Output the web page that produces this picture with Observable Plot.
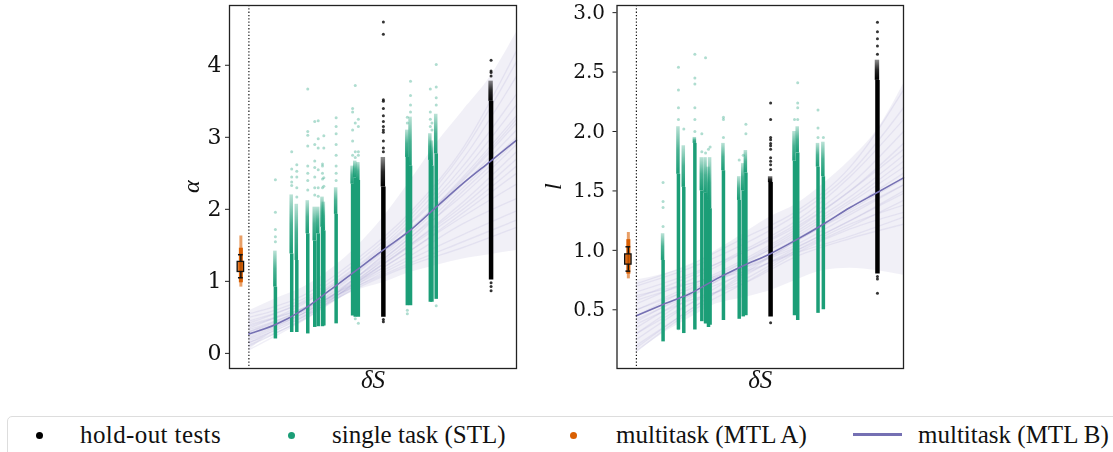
<!DOCTYPE html>
<html><head><meta charset="utf-8">
<script src="https://cdn.jsdelivr.net/npm/d3@7"></script>
<script src="https://cdn.jsdelivr.net/npm/@observablehq/plot@0.6"></script>
<style>
html,body{margin:0;padding:0;background:#fff;overflow:hidden}
#root{position:relative;width:1113px;height:452px;overflow:hidden}
#root svg{position:absolute;top:0;background:transparent;overflow:visible;filter:blur(.4px)}
#legend{position:absolute;left:7px;top:416px;width:1120px;height:50px;border:1.5px solid #ddd;border-radius:5px;box-sizing:border-box}
.lt{position:absolute;top:424px;font:25px/22px "Liberation Serif",serif;color:#111;white-space:nowrap}
.ld{position:absolute;width:7px;height:7px;border-radius:50%;top:431.5px}
.ll{position:absolute;left:853px;width:49px;height:3px;top:433px;background:#7570b3}
</style></head><body><div id="root"><div id="legend"></div></div>
<script>
// Shared x samples for the curves, in fractions of the delta-S range
const curveX = [0, .1, .2, .3, .4, .5, .6, .7, .8, .9, 1];
const sampleX = [0, .2, .4, .6, .8, 1];
const legendLabels = ["hold-out tests", "single task (STL)", "multitask (MTL A)", "multitask (MTL B)"];

// ---- alpha panel
const alphaMean  = [.27, .40, .60, .87, 1.15, 1.43, 1.70, 2.03, 2.36, 2.66, 2.96];
const alphaUpper = [.59, .76, .91, 1.15, 1.47, 1.88, 2.38, 2.91, 3.37, 3.83, 4.46];
const alphaLower = [.04, .32, .48, .69, .87, .98, 1.12, 1.22, 1.31, 1.37, 1.43];
const alphaSamples = [
  [.55,.8,1.3,1.95,2.85,4.2],[.5,.75,1.25,1.9,2.8,4.05],[.42,.72,1.2,1.85,2.7,3.85],[.35,.68,1.18,1.8,2.6,3.6],
  [.3,.62,1.12,1.78,2.52,3.45],[.45,.7,1.15,1.7,2.45,3.3],[.28,.58,1.1,1.72,2.42,3.25],[.22,.55,1.05,1.7,2.4,3.2],
  [.18,.5,1.05,1.65,2.35,3.1],[.33,.6,1.05,1.6,2.3,3.0],[.25,.55,1.02,1.55,2.25,2.95],[.15,.47,1,1.6,2.2,2.9],
  [.3,.58,1,1.5,2.1,2.8],[.1,.48,.98,1.5,2.05,2.7],[.2,.52,.98,1.48,2,2.6],[.38,.62,.98,1.42,1.95,2.5],
  [.12,.46,.95,1.42,1.9,2.35],[.27,.55,.95,1.35,1.8,2.15],[.05,.45,.92,1.3,1.65,1.98],[.4,.62,.93,1.25,1.55,1.85],
  [.15,.5,.9,1.22,1.47,1.75]
];
const alphaStlX     = [.099,.16,.179,.22,.246,.259,.275,.280,.326,.3875,.3975,.409,.592,.604,.678,.684,.70];
const alphaStlLow   = [.20,.29,.29,.27,.36,.37,.37,.38,.41,.52,.50,.50,.66,.66,.71,.71,.75];
const alphaStlSolid = [.92,1.38,1.29,1.66,1.56,1.66,1.75,1.7,1.93,2.35,2.44,2.4,2.72,2.6,2.68,2.6,2.77];
const alphaStlMid   = [1.42,2.2,2.07,2.12,2.03,2.03,2.17,2.1,2.3,2.6,2.67,2.65,3.1,3.28,3.05,2.95,3.32];
const alphaStlSparse = [
  [1.55,1.62,1.72,1.96,2.41],[2.33,2.38,2.45,2.56,2.8],[2.17,2.3,2.45,2.53,2.62],[2.27,2.4,2.5,2.6,2.88,3.03,3.08,3.67],
  [2.2,2.3,2.45,2.58,2.67,2.9,3.22],[2.18,2.3,2.55,2.85,2.98,3.23],[2.3,2.42,2.5,2.6,2.63],[2.32,2.44,2.85,3.02],
  [2.4,2.5,2.6,2.75,2.9,3.05,3.15,3.27],[2.75,2.95,3.1,3.35,3.4],[2.72,2.8,3.2,3.72,.48],[2.75,2.8,3.15,3.25,.42],
  [3.2,3.28,.55,.6],[3.35,3.45,3.58,3.78],[3.15,3.25,3.35,3.67],[3.1,3.2],[3.45,3.55,3.7,4.01,.66]
];
const alphaHoldX     = [.5025,.905];
const alphaHoldLow   = [.50,1.02];
const alphaHoldSolid = [2.31,3.5];
const alphaHoldMid   = [2.72,3.78];
const alphaHoldSparse = [
  [.44,.47,2.8,2.85,2.95,3.07,3.1,3.15,3.22,3.3,3.4,3.5,3.52,4.43,4.6],
  [.87,.93,.98,3.85,3.9,3.92,4.07]
];
const alphaMtl = {center:1.2, box:[1.13,1.27], whisker:[1.05,1.37], core:[.98,1.46], tail:[.92,1.63]};

// ---- l panel
const lMean  = [.45,.545,.635,.76,.87,.97,1.09,1.22,1.36,1.485,1.61];
const lUpper = [.75,.8,.87,1.0,1.14,1.28,1.39,1.56,1.76,2.01,2.40];
const lLower = [.14,.3,.43,.55,.6,.66,.75,.83,.85,.83,.79];
const lSamples = [
  [.72,.88,1.1,1.33,1.7,2.35],[.7,.85,1.05,1.3,1.65,2.2],[.6,.78,1,1.25,1.62,2.1],[.55,.75,.98,1.22,1.55,2],
  [.65,.8,.98,1.2,1.5,1.9],[.5,.7,.92,1.18,1.5,1.85],[.4,.65,.9,1.16,1.45,1.8],[.3,.6,.88,1.14,1.42,1.75],
  [.45,.68,.9,1.12,1.4,1.7],[.35,.62,.85,1.1,1.36,1.65],[.25,.55,.82,1.08,1.34,1.6],[.5,.67,.85,1.05,1.3,1.55],
  [.2,.5,.8,1.08,1.32,1.55],[.58,.72,.85,1.03,1.25,1.5],[.18,.5,.78,1.02,1.25,1.48],[.42,.62,.8,1,1.2,1.42],
  [.3,.55,.75,1,1.22,1.38],[.15,.48,.72,.98,1.18,1.32],[.62,.72,.82,.98,1.12,1.28],[.38,.58,.72,.95,1.1,1.22]
];
const lStlX     = [.1,.1575,.1775,.219,.245,.259,.27,.276,.326,.385,.40,.41,.592,.604,.68,.70];
const lStlLow   = [.23,.33,.30,.33,.40,.38,.35,.37,.41,.42,.44,.45,.45,.41,.47,.50];
const lStlSolid = [.915,1.64,1.53,1.9,1.5,1.48,1.42,1.35,1.67,1.42,1.5,1.65,1.75,1.82,1.7,1.62];
const lStlMid   = [1.14,2.04,1.88,1.95,1.78,1.78,1.7,1.78,1.9,1.62,1.73,1.84,2.0,2.04,1.9,1.91];
const lStlSparse = [
  [1.2,1.36,1.41,1.57],[.34,2.1,2.2,2.35,2.54],[2.02],[2.0,2.1,2.2,2.4,2.45,2.65],[1.83,1.98],[1.82,2.62],[1.85],[1.87],
  [1.95,2.1,2.12],[1.76],[1.8],[1.98,2.06],[2.1],[2.1,2.2,2.24,2.41],[1.95,2.03,2.18],[1.95]
];
const lHoldX     = [.5025,.9025];
const lHoldLow   = [.44,.8];
const lHoldSolid = [1.57,2.43];
const lHoldMid   = [1.62,2.6];
const lHoldSparse = [
  [.39,1.68,1.72,1.75,1.78,1.85,1.88,1.9,1.93,1.95,2.1,2.24],
  [.64,.76,.78,2.65,2.72,2.78,2.84,2.92]
];
const lMtl = {center:.924, box:[.88,.966], whisker:[.825,1.03], core:[.80,1.09], tail:[.76,1.15]};

const GREEN = "#1b9e77", ORANGE = "#d95f02", PURPLE = "#7570b3";
const MTL_X = -.03;
const root = document.getElementById("root");

// Vertical fade used on the top of each dense column
function fadeDefs() {
  const defs = d3.create("svg:defs");
  [["fade-green",GREEN,[1,.8,.3]],["fade-black","#000",[1,.85,.45]]].forEach(([id,c,ops])=>{
    const g = defs.append("linearGradient").attr("id",id).attr("x1",0).attr("y1",1).attr("x2",0).attr("y2",0);
    ops.forEach((op,i)=>g.append("stop").attr("offset",i/2).attr("stop-color",c).attr("stop-opacity",op));
  });
  return defs.node();
}

function panel(o) {
  const stl = o.stlX.map((x,i)=>({x,low:o.stlLow[i],solid:o.stlSolid[i],mid:o.stlMid[i]}));
  const hold = o.holdX.map((x,i)=>({x,low:o.holdLow[i],solid:o.holdSolid[i],mid:o.holdMid[i]}));
  const stlDots = o.stlX.flatMap((x,i)=>o.stlSparse[i].map(y=>({x,y})));
  const holdDots = o.holdX.flatMap((x,i)=>o.holdSparse[i].map(y=>({x,y})));
  const band = curveX.map((x,i)=>({x,lo:o.lower[i],hi:o.upper[i],mean:o.mean[i]}));
  const lines = o.samples.flatMap((s,k)=>s.map((y,i)=>({x:sampleX[i],y,k})));
  const m = o.mtl;
  const svg = Plot.plot({
    width:o.width, height:405, marginLeft:o.marginLeft, marginRight:4, marginTop:5, marginBottom:37,
    x:{domain:[-.0725,1], axis:null},
    y:{domain:o.yDomain, axis:null},
    marks:[
      fadeDefs,
      Plot.axisY({ticks:o.ticks, tickFormat:o.format, tickSize:4, tickPadding:o.pad, fontSize:o.fontSize,
        fontFamily:"DejaVu Serif", label:null, stroke:"#222", fill:"#111"}),
      Plot.areaY(band,{x:"x",y1:"lo",y2:"hi",fill:PURPLE,fillOpacity:.1,curve:"monotone-x"}),
      Plot.line(lines,{x:"x",y:"y",z:"k",stroke:PURPLE,strokeOpacity:.11,strokeWidth:1.4,curve:"monotone-x"}),
      Plot.rect(stl,{x1:"x",x2:"x",y1:"solid",y2:"mid",insetLeft:-1.75,insetRight:-1.75,fill:"url(#fade-green)"}),
      Plot.ruleX(stl,{x:"x",y1:"low",y2:"solid",stroke:GREEN,strokeWidth:3.5}),
      Plot.dot(stlDots,{x:"x",y:"y",r:1.5,fill:GREEN,fillOpacity:.35}),
      Plot.rect(hold,{x1:"x",x2:"x",y1:"solid",y2:"mid",insetLeft:-2.2,insetRight:-2.2,fill:"url(#fade-black)"}),
      Plot.ruleX(hold,{x:"x",y1:"low",y2:"solid",stroke:"#000",strokeWidth:4.5}),
      Plot.dot(holdDots,{x:"x",y:"y",r:1.5,fill:"#111",fillOpacity:.85}),
      Plot.line(band,{x:"x",y:"mean",stroke:PURPLE,strokeWidth:1.6,curve:"monotone-x"}),
      Plot.ruleX([0],{stroke:"#000",strokeWidth:1.1,strokeDasharray:"1.3,2"}),
      Plot.ruleX([MTL_X],{y1:m.tail[0],y2:m.tail[1],stroke:ORANGE,strokeWidth:3,strokeOpacity:.6}),
      Plot.ruleX([MTL_X],{y1:m.core[0],y2:m.core[1],stroke:ORANGE,strokeWidth:4}),
      Plot.ruleX([MTL_X],{y1:m.whisker[0],y2:m.whisker[1],stroke:"#111",strokeWidth:1.4}),
      Plot.ruleY(m.whisker,{x1:MTL_X-.009,x2:MTL_X+.009,stroke:"#111",strokeWidth:1.5}),
      Plot.rect([m],{x1:MTL_X-.012,x2:MTL_X+.012,y1:d=>d.box[0],y2:d=>d.box[1],fill:ORANGE,fillOpacity:.8,stroke:"#111",strokeWidth:1.3}),
      Plot.frame({stroke:"#222",strokeWidth:1.3}),
      Plot.text(["δS"],{frameAnchor:"bottom",dy:19,fontSize:25,fontStyle:"italic",fontFamily:"Liberation Serif",fill:"#111"}),
      Plot.text([o.label],{frameAnchor:"left",dx:o.labelDx,dy:o.labelDy,rotate:-90,fontSize:24,fontStyle:"italic",fontFamily:"Liberation Serif",fill:"#111"})
    ]
  });
  svg.style.left = o.left + "px";
  root.appendChild(svg);
}

panel({left:170,width:350,marginLeft:59,yDomain:[-.21,4.83],ticks:[0,1,2,3,4],format:d3.format("d"),fontSize:22,pad:4,
  label:"α",labelDx:-38,labelDy:6,mean:alphaMean,upper:alphaUpper,lower:alphaLower,samples:alphaSamples,
  stlX:alphaStlX,stlLow:alphaStlLow,stlSolid:alphaStlSolid,stlMid:alphaStlMid,stlSparse:alphaStlSparse,
  holdX:alphaHoldX,holdLow:alphaHoldLow,holdSolid:alphaHoldSolid,holdMid:alphaHoldMid,holdSparse:alphaHoldSparse,mtl:alphaMtl});
panel({left:540,width:367,marginLeft:76.5,yDomain:[.006,3.06],ticks:[.5,1,1.5,2,2.5,3],format:d3.format(".1f"),fontSize:20,pad:8,
  label:"l",labelDx:-64,labelDy:3,mean:lMean,upper:lUpper,lower:lLower,samples:lSamples,
  stlX:lStlX,stlLow:lStlLow,stlSolid:lStlSolid,stlMid:lStlMid,stlSparse:lStlSparse,
  holdX:lHoldX,holdLow:lHoldLow,holdSolid:lHoldSolid,holdMid:lHoldMid,holdSparse:lHoldSparse,mtl:lMtl});

// Legend
const dotLefts = [35.5,288,569.5], dotColors = ["#000",GREEN,ORANGE], textLefts = [80,332,616,918];
dotLefts.forEach((l,i)=>{const d=document.createElement("div");d.className="ld";d.style.left=l+"px";d.style.background=dotColors[i];root.appendChild(d);});
const ll=document.createElement("div");ll.className="ll";root.appendChild(ll);
textLefts.forEach((l,i)=>{const t=document.createElement("div");t.className="lt";t.style.left=l+"px";t.textContent=legendLabels[i];if(i===0)t.style.letterSpacing=".4px";root.appendChild(t);});
</script></body></html>
